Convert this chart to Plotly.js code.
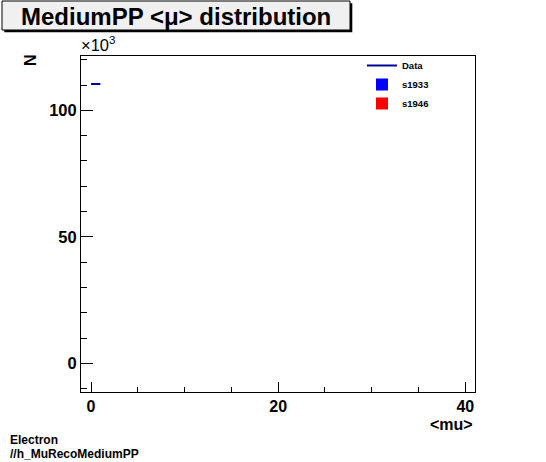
<!DOCTYPE html>
<html>
<head>
<meta charset="utf-8">
<script src="https://cdn.plot.ly/plotly-3.0.1.min.js"></script>
<style>html,body{margin:0;padding:0;background:#fff;}#chart{width:546px;height:462px;}</style>
</head>
<body>
<div id="chart"></div>
<script>
// ---- data ----
var binLowEdges = [0];
var binHighEdges = [1];
var dataCounts = [110400];
var s1933Bins = [0.5];
var s1933Counts = [0];
var s1946Bins = [0.5];
var s1946Counts = [0];
var xTickVals = [0, 20, 40];
var yTickVals = [0, 50, 100];

var SCALE = 1000;
var FONT = "Liberation Sans, Arial, Helvetica, sans-serif";

// step line built from bin edges
var stepX = [], stepY = [], cX = [], cY = [], cErr = [];
for (var i = 0; i < dataCounts.length; i++) {
  stepX.push(binLowEdges[i], binHighEdges[i]);
  stepY.push(dataCounts[i] / SCALE, dataCounts[i] / SCALE);
  if (i < dataCounts.length - 1) { stepX.push(null); stepY.push(null); }
  cX.push((binLowEdges[i] + binHighEdges[i]) / 2);
  cY.push(dataCounts[i] / SCALE);
  cErr.push(Math.sqrt(dataCounts[i]) / SCALE);
}

var traces = [
  {type: 'scatter', mode: 'lines', name: 'Data', x: stepX, y: stepY,
   line: {color: '#000099', width: 2}, hoverinfo: 'skip'},
  {type: 'bar', name: 's1933', x: s1933Bins, y: s1933Counts.map(function(v){return v / SCALE;}),
   width: 1, marker: {color: '#0000ff', line: {width: 0}}},
  {type: 'bar', name: 's1946', x: s1946Bins, y: s1946Counts.map(function(v){return v / SCALE;}),
   width: 1, marker: {color: '#ff0000', line: {width: 0}}},
  {type: 'scatter', mode: 'markers', showlegend: false, x: cX, y: cY,
   marker: {size: 1, color: '#000099', opacity: 0},
   error_y: {type: 'data', array: cErr, visible: true, color: '#000099', thickness: 2, width: 0}}
];

var L = 81, R = 71, T = 56, B = 70, W = 546, H = 462;
var PW = W - L - R, PH = H - T - B;
function px(x) { return (x - L) / PW; }
function py(y) { return (H - B - y) / PH; }

var layout = {
  width: W, height: H,
  margin: {l: L, r: R, t: T, b: B, pad: 0},
  paper_bgcolor: '#ffffff', plot_bgcolor: '#ffffff',
  font: {family: FONT, color: '#000'},
  showlegend: true,
  barmode: 'overlay',
  legend: {x: px(362), y: py(51), xanchor: 'left', yanchor: 'top',
           bgcolor: 'rgba(0,0,0,0)', borderwidth: 0,
           font: {family: FONT, size: 9.5, weight: 'bold', color: '#000'},
           tracegroupgap: 0, itemwidth: 30, traceorder: 'normal'},
  xaxis: {range: [-1.07, 41.04], showgrid: false, zeroline: false,
          showline: true, linecolor: '#000', linewidth: 1, mirror: true,
          tickmode: 'array', tickvals: xTickVals, ticktext: xTickVals.map(String),
          ticks: 'inside', ticklen: 10, tickwidth: 1, tickcolor: '#000',
          tickfont: {family: FONT, size: 16, weight: 'bold'},
          minor: {dtick: 5, tick0: 0, ticks: 'inside', ticklen: 5, tickwidth: 1, tickcolor: '#000', showgrid: false},
          fixedrange: true},
  yaxis: {range: [-11.34, 121.46], showgrid: false, zeroline: false,
          showline: true, linecolor: '#000', linewidth: 1, mirror: true,
          tickmode: 'array', tickvals: yTickVals, ticktext: yTickVals.map(String),
          ticks: 'inside', ticklen: 12, tickwidth: 1, tickcolor: '#000',
          tickfont: {family: FONT, size: 16.5, weight: 'bold'},
          minor: {dtick: 10, tick0: 0, ticks: 'inside', ticklen: 6, tickwidth: 1, tickcolor: '#000', showgrid: false},
          fixedrange: true},
  shapes: [
    {type: 'rect', xref: 'paper', yref: 'paper', x0: px(4.3), x1: px(352.3), y0: py(3.3), y1: py(32.3),
     fillcolor: '#000', line: {width: 0}, layer: 'above'},
    {type: 'rect', xref: 'paper', yref: 'paper', x0: px(2), x1: px(350), y0: py(1), y1: py(30),
     fillcolor: '#f0f0f0', line: {color: '#000', width: 1}, layer: 'above'}
  ],
  annotations: [
    {xref: 'paper', yref: 'paper', x: px(176), y: py(16.5), xanchor: 'center', yanchor: 'middle',
     text: 'MediumPP &lt;μ&gt; distribution', showarrow: false,
     font: {family: FONT, size: 24, weight: 'bold', color: '#000'}},
    {xref: 'paper', yref: 'paper', x: px(79), y: py(56), xanchor: 'left', yanchor: 'bottom',
     text: '×10<sup>3</sup>', showarrow: false,
     font: {family: FONT, size: 16.5, color: '#000'}},
    {xref: 'paper', yref: 'paper', x: px(30.5), y: py(60.5), xanchor: 'center', yanchor: 'middle',
     text: 'N', textangle: -90, showarrow: false,
     font: {family: FONT, size: 16, weight: 'bold', color: '#000'}},
    {xref: 'paper', yref: 'paper', x: px(475), y: py(424), xanchor: 'right', yanchor: 'middle',
     text: '&lt;mu&gt;', showarrow: false,
     font: {family: FONT, size: 16, weight: 'bold', color: '#000'}},
    {xref: 'paper', yref: 'paper', x: px(9), y: py(440), xanchor: 'left', yanchor: 'middle',
     text: 'Electron', showarrow: false, borderpad: 0,
     font: {family: FONT, size: 12, weight: 'bold', color: '#000'}},
    {xref: 'paper', yref: 'paper', x: px(9), y: py(454), xanchor: 'left', yanchor: 'middle',
     text: '//h_MuRecoMediumPP', showarrow: false, borderpad: 0,
     font: {family: FONT, size: 12, weight: 'bold', color: '#000'}}
  ]
};

Plotly.newPlot('chart', traces, layout, {displayModeBar: false, staticPlot: true});
</script>
</body>
</html>
